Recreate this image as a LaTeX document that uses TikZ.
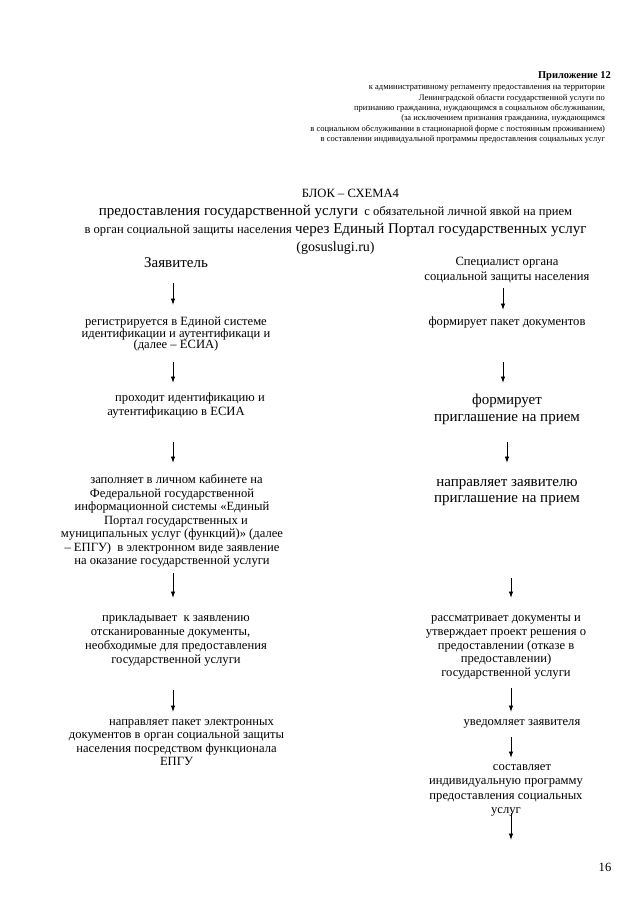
\documentclass[tikz,border=0pt]{standalone}
\usepackage{fontspec}
\setmainfont{Liberation Serif}
\usetikzlibrary{arrows.meta}
\newcommand\topS{\rule{0pt}{0.9em}}
\newcommand\botS{\rule[-0.35em]{0pt}{0.35em}}
\newcommand\fsz[2]{\fontsize{#1}{#2}\selectfont}
\begin{document}
\begin{tikzpicture}[x=1pt,y=-1pt,
  txt/.style={inner sep=0pt, outer sep=0pt, align=center, anchor=north, font=\fsz{12.6}{13.5}},
  big/.style={txt, font=\fsz{15}{17}},
  arr/.style={-{Latex[length=6.5pt,width=4.5pt]}, line width=0.9pt},
]
\useasboundingbox (0,0) rectangle (640,905);
\fill[white] (0,0) rectangle (640,905);
\coordinate (xL) at (173,0);
\coordinate (xR1) at (503,0);
\coordinate (xR2) at (507,0);
\coordinate (xR3) at (511,0);
\coordinate (endR) at (511,840);

\node[txt, anchor=base east, font=\bfseries\fsz{10.5}{12}] (app) at (611,78.5) {Приложение 12};
\node[txt, anchor=north east, align=right, font=\fsz{8.5}{10.4}] (hdr) at (605,82) {\topS к  административному регламенту предоставления  на территории\\ Ленинградской области государственной услуги  по\\ признанию гражданина, нуждающимся в социальном обслуживании,\\ (за исключением признания гражданина, нуждающимся\\ в социальном обслуживании в стационарной форме с постоянным проживанием)\\ в составлении индивидуальной программы предоставления социальных услуг};

\node[txt, font=\fsz{12.6}{17.9}] (title) at (335.5,186.2) {\topS\hspace*{30pt}БЛОК – СХЕМА4\\ {\fsz{15}{17.9}предоставления государственной услуги}\ \ с обязательной личной явкой на прием\\ в орган социальной защиты населения {\fsz{15}{17.9}через Единый Портал государственных услуг}\\ {\fsz{14}{17.9}(gosuslugi.ru)}};

\node[txt, font=\fsz{15}{17}] (zay) at (176,253.5) {\topS Заявитель\botS};
\node[txt, font=\fsz{12.6}{11.7}] (reg) at (176,314.2) {\topS регистрируется в Единой системе\\ идентификации и аутентификаци и\\ (далее – ЕСИА)\botS};
\node[txt] (prox) at (176,390.2) {\topS\hspace*{28pt}проходит идентификацию и\\ аутентификацию в ЕСИА\botS};
\node[txt] (zap) at (172,472.2) {\topS\hspace*{9pt}заполняет в личном кабинете на\\ Федеральной государственной\\ информационной системы «Единый\\ \hspace*{8pt}Портал государственных и\\ муниципальных услуг (функций)» (далее\\ – ЕПГУ)\ \ в электронном виде заявление\\ на оказание государственной услуги\botS};
\node[txt, font=\fsz{12.6}{14}] (prk) at (176,610.2) {\topS прикладывает\ \ к заявлению\\ \hspace*{-11pt}отсканированные документы,\\ необходимые для предоставления\\ государственной услуги\botS};
\node[txt, font=\fsz{12.6}{13.3}] (npk) at (176.5,714.2) {\topS\hspace*{30pt}направляет пакет электронных\\ документов в орган социальной защиты\\ населения посредством функционала\\ ЕПГУ\botS};

\node[txt, font=\fsz{12.6}{15}] (spec) at (507,254.2) {\topS Специалист органа\\ социальной защиты населения\botS};
\node[txt] (fpk) at (507,314.2) {\topS формирует пакет документов\botS};
\node[big] (fpr) at (507,390.7) {\topS формирует\\ приглашение на прием\botS};
\node[big, font=\fsz{15}{16}] (nzv) at (507,472.7) {\topS направляет заявителю\\ приглашение на прием\botS};
\node[txt, font=\fsz{12.6}{13.75}] (rss) at (506,610.2) {\topS рассматривает документы и\\ утверждает проект решения о\\ предоставлении (отказе в\\ предоставлении)\\ государственной услуги\botS};
\node[txt] (uvd) at (522,714.2) {\topS уведомляет заявителя\botS};
\node[txt, font=\fsz{12.6}{14.3}] (sst) at (506,759.2) {\topS\hspace*{32pt}составляет\\ индивидуальную программу\\ предоставления социальных\\ услуг\botS};
\node[txt, anchor=center] (pg) at (605,867) {16};

\draw[arr, shorten <=10.7pt, shorten >=9.2pt] (zay.south -| xL) -- (reg.north -| xL);
\draw[arr, shorten <=8.7pt, shorten >=7.2pt] (reg.south -| xL) -- (prox.north -| xL);
\draw[arr, shorten <=22.6pt, shorten >=9.2pt] (prox.south -| xL) -- (zap.north -| xL);
\draw[arr, shorten <=4.1pt, shorten >=12.2pt] (zap.south -| xL) -- (prk.north -| xL);
\draw[arr, shorten <=22.1pt, shorten >=2.2pt] (prk.south -| xL) -- (npk.north -| xL);

\draw[arr, shorten <=3.1pt, shorten >=4.2pt] (spec.south -| xR1) -- (fpk.north -| xR1);
\draw[arr, shorten <=32.1pt, shorten >=7.7pt] (fpk.south -| xR1) -- (fpr.north -| xR1);
\draw[arr, shorten <=15.5pt, shorten >=9.7pt] (fpr.south -| xR2) -- (nzv.north -| xR2);
\draw[arr, shorten <=70.6pt, shorten >=12.2pt] (nzv.south -| xR3) -- (rss.north -| xR3);
\draw[arr, shorten <=7.1pt, shorten >=2.2pt] (rss.south -| xR3) -- (uvd.north -| xR3);
\draw[arr, shorten <=7.1pt, shorten >=1.2pt] (uvd.south -| xR3) -- (sst.north -| xR3);
\draw[arr, shorten <=-4.9pt] (sst.south -| xR3) -- (endR);
\end{tikzpicture}
\end{document}
